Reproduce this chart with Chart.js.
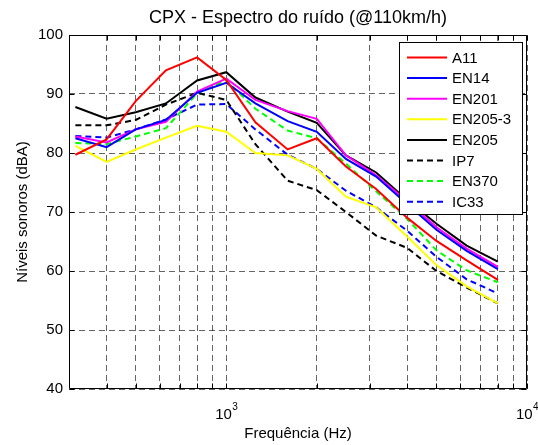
<!DOCTYPE html>
<html>
<head>
<meta charset="utf-8">
<script src="https://cdn.jsdelivr.net/npm/chart.js@4.4.1/dist/chart.umd.min.js"></script>
<style>
  html, body { margin: 0; padding: 0; background: #fff; }
  #wrap { width: 538px; height: 445px; }
</style>
</head>
<body>
<div id="wrap"><canvas id="c" width="538" height="445"></canvas></div>
<script>
// 1/3-octave band centre frequencies (Hz)
const freqs = [315, 400, 500, 630, 800, 1000, 1250, 1600, 2000, 2500, 3150, 4000, 5000, 6300, 8000];

// Sound levels per tyre (dBA)
const A11     = [79.7, 82.3, 88.8, 94.0, 96.2, 92.4, 85.2, 80.6, 82.5, 77.7, 73.9, 69.0, 65.1, 61.8, 58.5];
const EN14    = [82.5, 81.0, 84.0, 85.6, 90.2, 91.9, 88.4, 85.4, 83.6, 79.0, 76.0, 71.3, 67.0, 63.4, 60.3];
const EN201   = [82.8, 81.8, 84.0, 85.3, 90.4, 92.6, 89.0, 87.1, 85.8, 79.6, 76.2, 71.8, 67.4, 63.8, 60.7];
const EN205_3 = [81.2, 78.5, 80.6, 82.6, 84.6, 83.6, 80.0, 79.6, 77.3, 72.6, 70.8, 65.8, 61.0, 57.4, 54.5];
const EN205   = [87.8, 85.8, 86.9, 88.4, 92.3, 93.7, 89.4, 87.0, 85.1, 79.6, 76.7, 72.0, 68.0, 64.3, 61.6];
const IP7     = [84.7, 84.7, 85.6, 88.2, 90.2, 89.0, 81.5, 75.3, 73.7, 70.0, 66.0, 63.9, 60.0, 57.2, 54.5];
const EN370   = [81.7, 81.5, 82.8, 84.2, 90.1, 92.3, 87.5, 83.8, 82.5, 78.2, 73.5, 68.8, 63.5, 60.1, 58.1];
const IC33    = [82.9, 82.6, 84.0, 85.7, 88.2, 88.3, 84.0, 79.7, 77.3, 73.6, 70.8, 66.8, 62.4, 58.6, 56.2];

const seriesNames = ['A11', 'EN14', 'EN201', 'EN205-3', 'EN205', 'IP7', 'EN370', 'IC33'];
const seriesData  = [A11, EN14, EN201, EN205_3, EN205, IP7, EN370, IC33];
const seriesColor = ['#ff0000', '#0000ff', '#ff00ff', '#ffff00', '#000000', '#000000', '#00ff00', '#0000ff'];
const seriesDash  = [[], [], [], [], [], [6, 4], [6, 4], [6, 4]];

// Axis ticks
const xTicks = [400, 500, 600, 700, 800, 900, 1000, 2000, 3000, 4000, 5000, 6000, 7000, 8000, 9000, 10000];
const xMajor = [1000, 10000];
const yTicks = [40, 50, 60, 70, 80, 90, 100];

const titleText = 'CPX - Espectro do ruído (@110km/h)';
const xTitle = 'Frequência (Hz)';
const yTitle = 'Níveis sonoros (dBA)';

const FONT = '"Liberation Sans", Arial, Helvetica, sans-serif';
const GRID = 'rgba(0,0,0,0.6)';

const datasets = seriesNames.map((name, i) => ({
  label: name,
  data: freqs.map((f, k) => ({ x: f, y: seriesData[i][k] })),
  borderColor: seriesColor[i],
  backgroundColor: seriesColor[i],
  borderWidth: 2,
  borderDash: seriesDash[i],
  pointRadius: 0,
  tension: 0,
  fill: false
}));

// Axes box, inner ticks, exponent tick labels, titles and legend
const decor = {
  id: 'decor',
  afterDraw(chart) {
    const ctx = chart.ctx;
    const a = chart.chartArea;
    const xs = chart.scales.x, ys = chart.scales.y;
    const L = Math.round(a.left) + 0.5, R = Math.round(a.right) - 0.5;
    const T = Math.round(a.top) + 0.5, B = Math.round(a.bottom) - 0.5;
    ctx.save();
    ctx.strokeStyle = '#000';
    ctx.lineWidth = 1;
    ctx.setLineDash([]);
    ctx.beginPath();
    ctx.rect(L, T, R - L, B - T);
    // x ticks (bottom and top, pointing inward)
    xTicks.forEach(v => {
      const px = Math.round(xs.getPixelForValue(v)) + 0.5;
      ctx.moveTo(px, B); ctx.lineTo(px, B - 5);
      ctx.moveTo(px, T); ctx.lineTo(px, T + 5);
    });
    // y ticks (left and right)
    yTicks.forEach(v => {
      const py = Math.round(ys.getPixelForValue(v)) + 0.5;
      ctx.moveTo(L, py); ctx.lineTo(L + 5, py);
      ctx.moveTo(R, py); ctx.lineTo(R - 5, py);
    });
    ctx.stroke();

    // x tick labels as powers of ten
    ctx.fillStyle = '#000';
    ctx.textBaseline = 'alphabetic';
    xMajor.forEach(v => {
      const px = xs.getPixelForValue(v);
      const exp = String(Math.round(Math.log10(v)));
      ctx.font = '15px ' + FONT;
      const wb = ctx.measureText('10').width;
      ctx.font = '10px ' + FONT;
      const we = ctx.measureText(exp).width;
      const x0 = px - (wb + we) / 2;
      ctx.font = '15px ' + FONT;
      ctx.textAlign = 'left';
      ctx.fillText('10', x0, 419);
      ctx.font = '10px ' + FONT;
      ctx.fillText(exp, x0 + wb + 0.5, 410);
    });

    // x axis title
    ctx.font = '15px ' + FONT;
    ctx.textAlign = 'center';
    ctx.fillText(xTitle, (a.left + a.right) / 2, 438);

    // chart title
    ctx.font = '18px ' + FONT;
    ctx.fillText(titleText, (a.left + a.right) / 2, 23);

    // legend
    const lx = 399.5, ly = 42.5, lw = 123, lh = 172;
    ctx.fillStyle = '#fff';
    ctx.fillRect(lx, ly, lw, lh);
    ctx.strokeStyle = '#000';
    ctx.lineWidth = 1;
    ctx.strokeRect(lx, ly, lw, lh);
    ctx.font = '15px ' + FONT;
    ctx.textAlign = 'left';
    ctx.textBaseline = 'middle';
    chart.data.datasets.forEach((ds, i) => {
      const cy = 57.5 + i * 20.6;
      ctx.strokeStyle = ds.borderColor;
      ctx.lineWidth = 2;
      ctx.setLineDash(ds.borderDash || []);
      ctx.beginPath();
      ctx.moveTo(407, cy); ctx.lineTo(447, cy);
      ctx.stroke();
      ctx.setLineDash([]);
      ctx.fillStyle = '#000';
      ctx.fillText(ds.label, 452, cy + 1);
    });
    ctx.restore();
  }
};

new Chart(document.getElementById('c'), {
  type: 'line',
  data: { datasets },
  plugins: [decor],
  options: {
    responsive: false,
    devicePixelRatio: 1,
    animation: false,
    events: [],
    layout: { padding: { top: 35, right: 11, bottom: 0, left: 0 } },
    plugins: {
      legend: { display: false },
      title: { display: false },
      tooltip: { enabled: false }
    },
    scales: {
      x: {
        type: 'logarithmic',
        min: 300,
        max: 10000,
        afterBuildTicks: s => { s.ticks = xTicks.map(v => ({ value: v })); },
        afterFit: s => { s.height = 56; },
        ticks: { display: false },
        grid: { color: GRID, lineWidth: 1, drawTicks: false },
        border: { display: false, dash: [6, 4] }
      },
      y: {
        type: 'linear',
        min: 40,
        max: 100,
        afterBuildTicks: s => { s.ticks = yTicks.map(v => ({ value: v })); },
        afterFit: s => { s.width = 69; },
        ticks: { color: '#000', font: { family: FONT, size: 15 }, padding: 6 },
        grid: { color: GRID, lineWidth: 1, drawTicks: false },
        border: { display: false, dash: [6, 4] },
        title: {
          display: true,
          text: yTitle,
          color: '#000',
          font: { family: FONT, size: 15 },
          padding: { top: 14, bottom: 0 }
        }
      }
    }
  }
});
</script>
</body>
</html>
